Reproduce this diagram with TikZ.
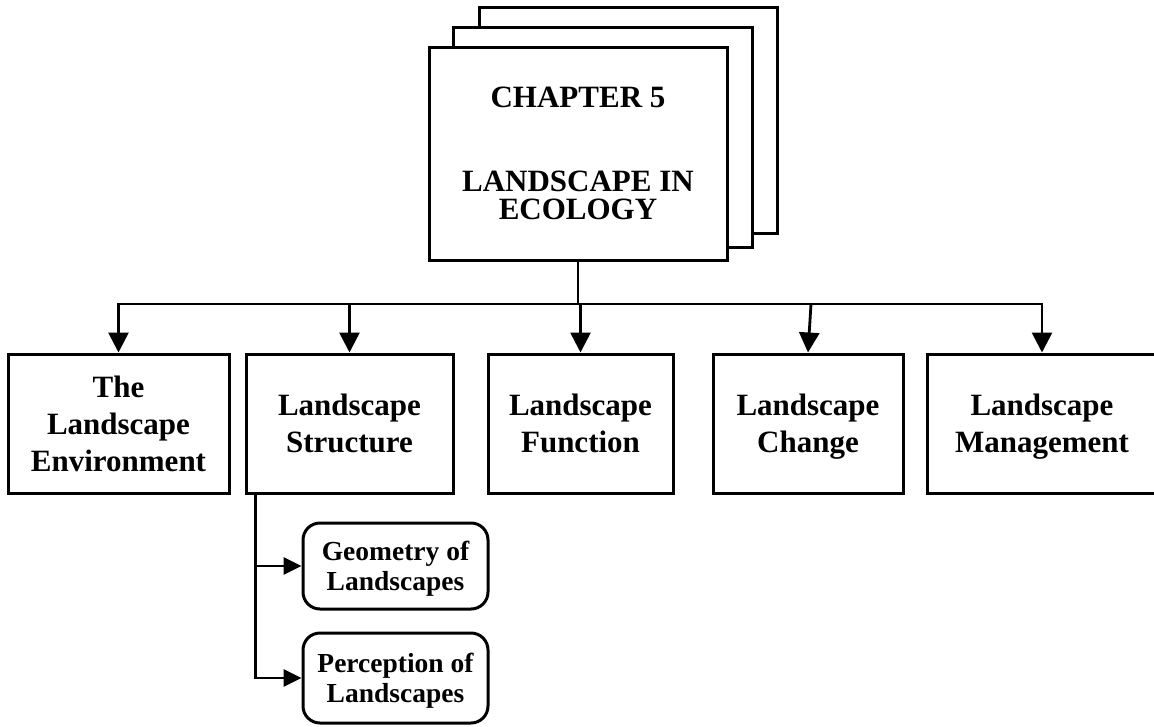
\documentclass[tikz,border=0pt]{standalone}
\usepackage{fontspec}
\setmainfont{Liberation Serif}
\usetikzlibrary{arrows.meta,calc}

\tikzset{
  sheet/.style={draw, line width=3pt, fill=white, inner sep=0pt},
  topicbox/.style={draw, line width=3pt, fill=white, inner sep=0pt,
    minimum height=139pt, align=center, text depth=0pt,
    font=\bfseries\fontsize{31}{37}\selectfont},
  subbox/.style={draw, line width=3pt, fill=white, inner sep=0pt,
    rounded corners=17pt, minimum width=185pt, align=center, text depth=0pt,
    font=\bfseries\fontsize{27.5}{30}\selectfont},
  link/.style={line width=2.8pt},
  bigarrow/.style={link, -{Triangle[length=20pt,width=20pt]}},
  smallarrow/.style={link, -{Triangle[length=18pt,width=17pt]}},
}

\begin{document}
\begin{tikzpicture}[x=1pt, y=-1pt]
\useasboundingbox (0,0) rectangle (1154,726);

% stacked chapter sheets, back to front
\node[sheet, minimum width=298pt, minimum height=226pt] (back) at (628,120) {};
\node[sheet, minimum width=299pt, minimum height=220pt] (middle) at (602.5,137) {};
\node[sheet, minimum width=298pt, minimum height=213pt, align=center,
      font=\bfseries\fontsize{31}{28}\selectfont] (front) at (578,153.5)
      {CHAPTER 5\\[56pt]LANDSCAPE IN\\ECOLOGY};

% topic boxes
\node[topicbox, minimum width=221pt] (env) at (118.5,423.5) {The\\Landscape\\Environment};
\node[topicbox, minimum width=207pt] (struct) at (349.5,423.5) {Landscape\\Structure};
\node[topicbox, minimum width=185pt] (func) at (580.5,423.5) {Landscape\\Function};
\node[topicbox, minimum width=190pt] (change) at (808,423.5) {Landscape\\Change};
\node[topicbox, minimum width=230pt] (manage) at (1042,423.5) {Landscape\\Management};

% sub-topics of landscape structure
\node[subbox, minimum height=86pt] (geom) at (395.5,566) {Geometry of\\Landscapes};
\node[subbox, minimum height=90pt] (percep) at (395.5,678) {Perception of\\Landscapes};

% tree connectors
\coordinate (hub) at (578,304);
\draw[link] (front.south) -- (hub);
\draw[bigarrow] (hub) -| (env.north);
\draw[bigarrow] (hub) -| (manage.north);
\draw[bigarrow] (struct.north |- hub) -- (struct.north);
\draw[bigarrow] (func.north |- hub) -- (func.north);
\draw[bigarrow] ($(change.north |- hub)+(3,0)$) -- (change.north);

\coordinate (stem) at ($(struct.south west)+(11,0)$);
\draw[smallarrow] (stem) |- (geom.west);
\draw[smallarrow] (stem) |- (percep.west);
\end{tikzpicture}
\end{document}
